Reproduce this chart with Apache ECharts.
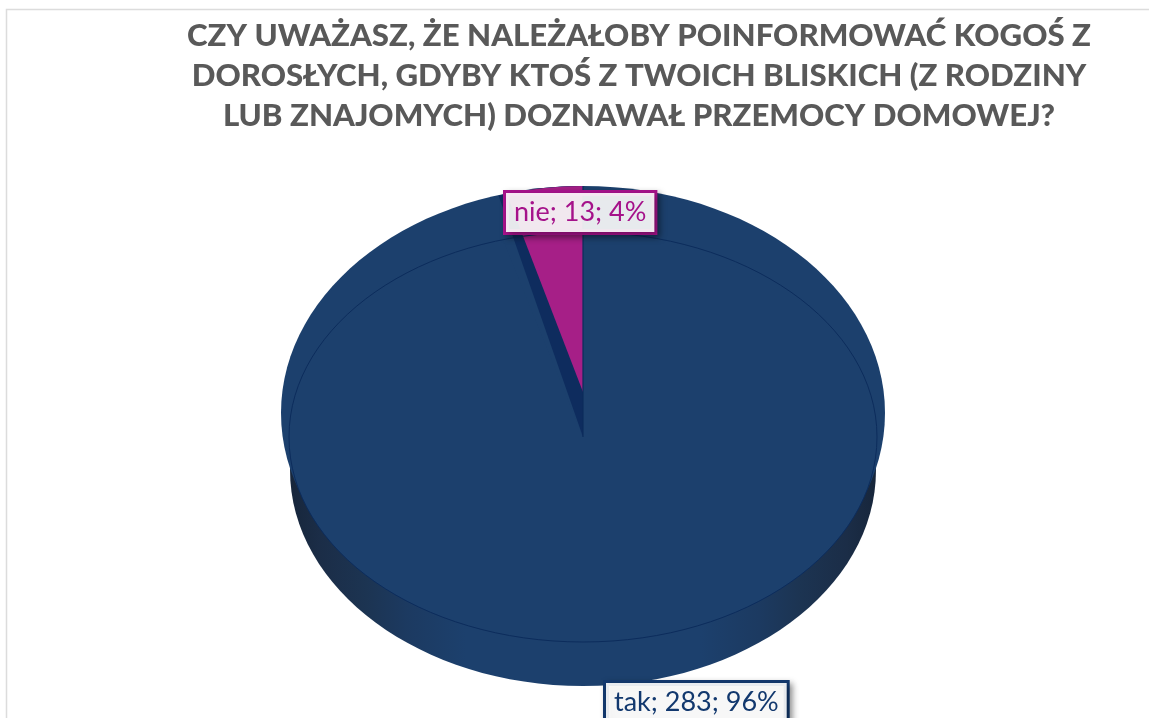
<!DOCTYPE html>
<html><head><meta charset="utf-8">
<style>html,body{margin:0;padding:0;background:#fff}#c{width:1149px;height:718px}</style>
<script src="https://cdn.jsdelivr.net/npm/echarts@6/dist/echarts.min.js"></script>
</head><body><div id="c"></div>
<script>
const titleLines = ['CZY UWAŻASZ, ŻE NALEŻAŁOBY POINFORMOWAĆ KOGOŚ Z','DOROSŁYCH, GDYBY KTOŚ Z TWOICH BLISKICH (Z RODZINY','LUB ZNAJOMYCH) DOZNAWAŁ PRZEMOCY DOMOWEJ?'];
const categories = ['tak','nie'];
const values = [283,13];
const percents = [96,4];

const total = values.reduce((a,b)=>a+b,0);
const cx=583, faceCy=437, rx=294, ry=205;
const blue='#1c406d', dark='#0e2c5e', magenta='#a61f87', edge='#0c2c5c', labelMag='#a5128a', labelBlue='#12386e';
const font='Lato, "Open Sans", sans-serif';
const titleTop=[15.5,55.5,95.5];
const chart=echarts.init(document.getElementById('c'),null,{renderer:'canvas'});

function elliptic(x,y,a,b,start,end,fill){
  return {type:'sector',x:x,y:y,scaleX:a/100,scaleY:b/100,
    shape:{cx:0,cy:0,r:100,r0:0,startAngle:start,endAngle:end,clockwise:true},
    style:{fill:fill}};
}
function renderItem(params,api){
  const i=params.dataIndex;
  let before=0; for(let k=0;k<i;k++) before+=values[k];
  const a0=-Math.PI/2+before/total*2*Math.PI;
  const a1=a0+api.value(1)/total*2*Math.PI;
  const kids=[];
  if(i===0){
    kids.push({type:'ellipse',shape:{cx:cx,cy:470,rx:293,ry:216},
      style:{fill:new echarts.graphic.LinearGradient(0,0,1,0,[
        {offset:0,color:'#17263b'},{offset:.05,color:'#1b2d47'},{offset:.13,color:'#1c3452'},{offset:.2,color:'#1c3a61'},{offset:.3,color:blue},
        {offset:.7,color:blue},{offset:.8,color:'#1c3a61'},{offset:.87,color:'#1c3452'},{offset:.95,color:'#1b2d47'},{offset:1,color:'#17263b'}])}});
    kids.push({type:'ellipse',shape:{cx:cx,cy:413,rx:302,ry:227},style:{fill:blue}});
    kids.push(elliptic(cx,faceCy,rx,ry,a0,a1,blue));
  } else {
    kids.push(elliptic(cx,faceCy,310,251,a0,a1,dark));
    kids.push(elliptic(cx,392,280,206,a0,a1,magenta));
    kids.push({type:'ellipse',shape:{cx:cx,cy:faceCy,rx:rx,ry:ry},style:{fill:null,stroke:edge,lineWidth:1}});
    kids.push({type:'line',shape:{x1:cx,y1:186,x2:cx,y2:faceCy},style:{stroke:edge,lineWidth:1.2}});
  }
  return {type:'group',children:kids};
}
function labelItem(x,y,i,color){
  return {type:'text',x:x,y:y,z2:100,style:{
    text:categories[i]+'; '+values[i]+'; '+percents[i]+'%',
    fill:color,font:'27px '+font,
    backgroundColor:'rgba(255,255,255,0.9)',borderColor:color,borderWidth:3,
    padding:[6,8,6,8],
    shadowBlur:6,shadowColor:'rgba(0,0,0,0.35)',shadowOffsetX:3,shadowOffsetY:3}};
}
chart.setOption({
  animation:false,
  backgroundColor:'#fff',
  title:titleLines.map((t,i)=>({text:t,left:639,top:titleTop[i],textAlign:'center',padding:0,
    textStyle:{fontFamily:font,fontWeight:900,fontSize:31.2,lineHeight:40,color:'#595959'}})),
  graphic:[{type:'polyline',silent:true,shape:{points:[[6.5,718],[6.5,9.5],[1149,9.5]]},style:{fill:null,stroke:'#dcdcdc',lineWidth:1.5}}],
  xAxis:{show:false},yAxis:{show:false},
  series:[{
    type:'custom',coordinateSystem:'none',silent:true,
    data:categories.map((c,i)=>[c,values[i]]),
    renderItem:renderItem,z:2
  },{
    type:'custom',coordinateSystem:'none',silent:true,z:3,
    data:categories.map((c,i)=>[c,values[i]]),
    renderItem:(p)=> p.dataIndex===0?labelItem(606,683,0,labelBlue):labelItem(506,193,1,labelMag)
  }]
});
</script></body></html>
